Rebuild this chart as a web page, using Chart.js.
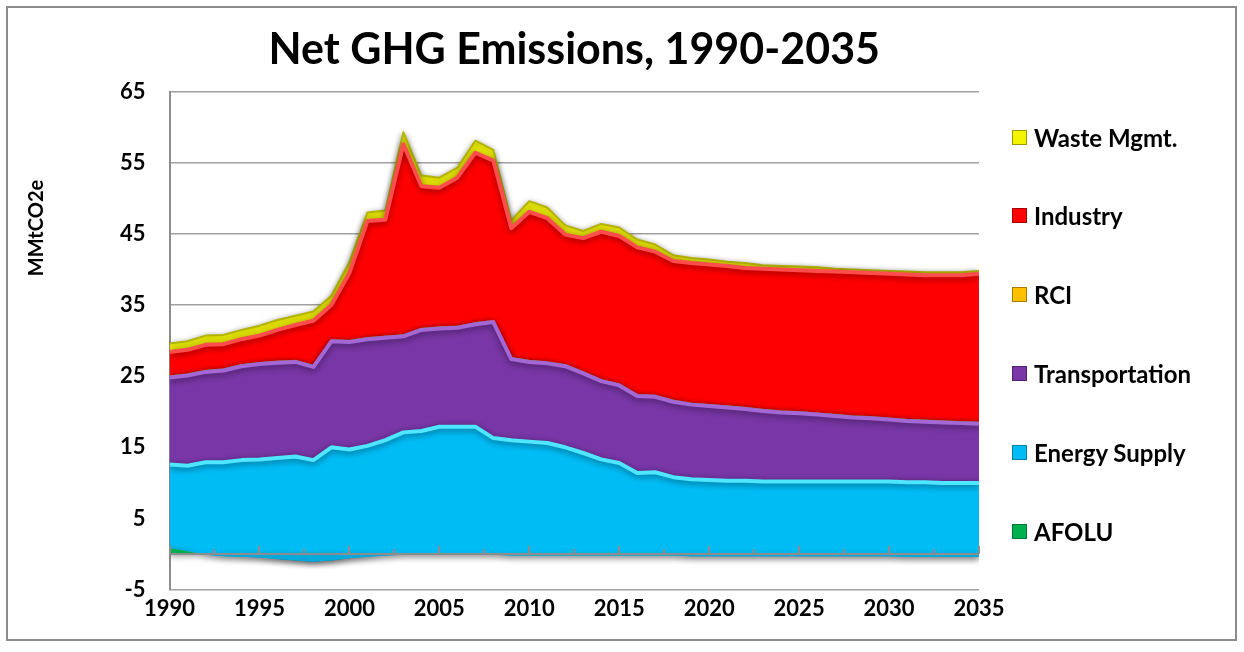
<!DOCTYPE html>
<html>
<head>
<meta charset="utf-8">
<title>Net GHG Emissions, 1990-2035</title>
<script src="https://cdn.jsdelivr.net/npm/chart.js@4.4.1/dist/chart.umd.min.js"></script>
<style>
  body { margin: 0; background: #fff; }
  #wrap { position: relative; width: 1244px; height: 652px; }
  #legend { position: absolute; left: 1012px; top: 0; margin: 0; padding: 0; list-style: none;
            font: bold 24px Lato, sans-serif; color: #000; }
  #legend li { position: absolute; left: 0; height: 28px; white-space: nowrap; display: flex; align-items: center; }
  #legend .swatch { width: 13px; height: 13px; border: 1px solid; margin-right: 7px; box-sizing: content-box; }
</style>
</head>
<body>
<div id="wrap">
  <canvas id="ghgChart" width="1244" height="652"></canvas>
  <ul id="legend"></ul>
</div>
<script>
// Years on the horizontal axis
const years = [1990, 1991, 1992, 1993, 1994, 1995, 1996, 1997, 1998, 1999,
               2000, 2001, 2002, 2003, 2004, 2005, 2006, 2007, 2008, 2009,
               2010, 2011, 2012, 2013, 2014, 2015, 2016, 2017, 2018, 2019,
               2020, 2021, 2022, 2023, 2024, 2025, 2026, 2027, 2028, 2029,
               2030, 2031, 2032, 2033, 2034, 2035];

// Emissions by sector, MMtCO2e (stacked bottom to top)
const afolu = [0.8, 0.4, -0.1, -0.3, -0.4, -0.5, -0.7, -0.9, -1.1, -0.9,
               -0.6, -0.4, -0.2, -0.1, -0.1, -0.1, -0.1, -0.1, -0.1, -0.2,
               -0.2, -0.2, -0.2, -0.2, -0.2, -0.2, -0.2, -0.2, -0.2, -0.3,
               -0.3, -0.3, -0.3, -0.3, -0.3, -0.3, -0.3, -0.3, -0.3, -0.3,
               -0.3, -0.4, -0.4, -0.4, -0.4, -0.4];
const energySupply = [11.8, 12.0, 13.0, 13.2, 13.6, 13.8, 14.2, 14.6, 14.3, 15.9,
                      15.3, 15.6, 16.2, 17.2, 17.4, 18.0, 18.0, 18.0, 16.4, 16.2,
                      16.0, 15.8, 15.2, 14.4, 13.5, 13.0, 11.6, 11.7, 11.0, 10.8,
                      10.7, 10.6, 10.6, 10.5, 10.5, 10.5, 10.5, 10.5, 10.5, 10.5,
                      10.5, 10.5, 10.5, 10.4, 10.4, 10.4];
const transportation = [12.2, 12.7, 12.7, 12.9, 13.2, 13.4, 13.4, 13.3, 13.1, 14.9,
                        15.1, 15.0, 14.4, 13.5, 14.2, 13.8, 13.9, 14.4, 16.3, 11.4,
                        11.2, 11.2, 11.4, 11.2, 11.0, 10.9, 10.8, 10.6, 10.6, 10.5,
                        10.4, 10.3, 10.1, 9.9, 9.7, 9.6, 9.4, 9.2, 9.0, 8.9,
                        8.7, 8.6, 8.5, 8.5, 8.4, 8.3];
const rci = [0.2, 0.2, 0.2, 0.2, 0.2, 0.2, 0.2, 0.2, 0.2, 0.2,
             0.2, 0.2, 0.2, 0.2, 0.2, 0.2, 0.2, 0.2, 0.2, 0.2,
             0.2, 0.2, 0.2, 0.2, 0.2, 0.2, 0.2, 0.2, 0.2, 0.2,
             0.2, 0.2, 0.2, 0.2, 0.2, 0.2, 0.2, 0.2, 0.2, 0.2,
             0.2, 0.2, 0.2, 0.2, 0.2, 0.2];
const industry = [3.4, 3.4, 3.6, 3.5, 3.6, 3.8, 4.4, 5.0, 6.3, 4.9,
                  9.5, 16.4, 16.4, 26.8, 20.0, 19.6, 20.9, 23.9, 22.5, 18.2,
                  20.9, 20.2, 18.3, 18.8, 20.8, 20.8, 20.7, 20.2, 19.6, 19.7,
                  19.7, 19.7, 19.6, 19.8, 19.9, 19.9, 20.0, 20.1, 20.2, 20.2,
                  20.3, 20.4, 20.4, 20.5, 20.6, 20.9];
const wasteMgmt = [1.2, 1.2, 1.3, 1.3, 1.3, 1.4, 1.4, 1.3, 1.3, 1.3,
                   1.5, 1.2, 1.3, 1.7, 1.5, 1.4, 1.4, 1.7, 1.5, 1.1,
                   1.5, 1.5, 1.3, 1.0, 1.1, 1.2, 1.1, 1.0, 0.8, 0.7,
                   0.7, 0.6, 0.7, 0.5, 0.5, 0.5, 0.5, 0.4, 0.4, 0.4,
                   0.4, 0.4, 0.4, 0.4, 0.4, 0.4];

// y axis runs -5..65 in steps of 10
const Y_MIN = -5, Y_MAX = 65, Y_STEP = 10;

const FONT = 'Lato, sans-serif';

// soft shadow under the stacked areas, gives the bevelled look
const areaShadow = {
    id: 'areaShadow',
    beforeDatasetsDraw(chart) {
        const ctx = chart.ctx;
        ctx.save();
        ctx.shadowColor = 'rgba(0, 0, 0, 0.45)';
        ctx.shadowBlur = 6;
        ctx.shadowOffsetY = 2;
    },
    afterDatasetsDraw(chart) {
        chart.ctx.restore();
    }
};

// zero axis with tick marks, rotated y title and the outer frame
const frameAndAxis = {
    id: 'frameAndAxis',
    afterDatasetsDraw(chart) {
        const { ctx, chartArea, scales: { x, y } } = chart;
        const y0 = y.getPixelForValue(0);
        ctx.save();
        ctx.strokeStyle = '#8c8c8c';
        ctx.lineWidth = 2;
        ctx.beginPath();
        ctx.moveTo(chartArea.left, y0);
        ctx.lineTo(chartArea.right, y0);
        x.ticks.forEach(t => {
            const px = Math.round(x.getPixelForValue(t.value));
            const len = t.value % 5 === 0 ? 8 : 5;
            ctx.moveTo(px, y0);
            ctx.lineTo(px, y0 - len);
        });
        ctx.stroke();
        ctx.restore();
    },
    afterDraw(chart) {
        const ctx = chart.ctx;
        ctx.save();
        ctx.strokeStyle = '#8c8c8c';
        ctx.lineWidth = 2;
        ctx.strokeRect(7, 7, 1229, 633);

        ctx.translate(37, 228);
        ctx.rotate(-Math.PI / 2);
        ctx.font = 'bold 20px ' + FONT;
        ctx.textAlign = 'center';
        ctx.textBaseline = 'middle';
        ctx.fillStyle = '#000';
        ctx.fillText('MMtCO2e', 0, 0);
        ctx.restore();
    }
};

const datasets = [
    { label: 'AFOLU', data: afolu, backgroundColor: '#00b050', borderColor: '#00b050', borderWidth: 0,
      fill: { target: 'origin', above: '#00b050', below: '#05a9dc' } },
    { label: 'Energy Supply', data: energySupply, backgroundColor: '#00bcf5', borderColor: '#4fe6ff', borderWidth: 4, fill: '-1' },
    { label: 'Transportation', data: transportation, backgroundColor: '#7836a6', borderColor: '#a468d6', borderWidth: 4, fill: '-1' },
    { label: 'RCI', data: rci, backgroundColor: '#ffc000', borderColor: '#9c8a1e', borderWidth: 1.5, fill: '-1' },
    { label: 'Industry', data: industry, backgroundColor: '#ff0000', borderColor: '#ff4d4d', borderWidth: 4, fill: '-1' },
    { label: 'Waste Mgmt.', data: wasteMgmt, backgroundColor: '#f4f400', borderColor: '#b4b400', borderWidth: 2, fill: '-1' }
];

// legend swatch edges
const legendEdge = {
    'AFOLU': '#007a38', 'Energy Supply': '#0082ad', 'Transportation': '#4e2270',
    'RCI': '#a67c00', 'Industry': '#a80000', 'Waste Mgmt.': '#9a9a00'
};

const chart = new Chart(document.getElementById('ghgChart'), {
    type: 'line',
    data: { labels: years, datasets: datasets },
    options: {
        responsive: false,
        animation: false,
        layout: { padding: { left: 96, right: 265, top: 10, bottom: 24 } },
        elements: {
            point: { radius: 0 },
            line: { tension: 0, borderJoinStyle: 'round' }
        },
        plugins: {
            legend: { display: false },
            tooltip: { enabled: false },
            title: {
                display: true,
                fullSize: false,
                text: 'Net GHG Emissions, 1990-2035',
                color: '#000',
                font: { family: FONT, size: 43, weight: 'bold' },
                padding: { top: 14, bottom: 16 }
            }
        },
        scales: {
            x: {
                type: 'linear',
                min: 1990,
                max: 2035,
                grid: { display: false, drawTicks: false },
                border: { display: false },
                ticks: {
                    stepSize: 2.5,
                    autoSkip: false,
                    maxRotation: 0,
                    padding: 6,
                    color: '#000',
                    font: { family: FONT, size: 22, weight: 'bold' },
                    callback: v => (v % 5 === 0 ? String(v) : '')
                }
            },
            y: {
                stacked: 'single',
                min: Y_MIN,
                max: Y_MAX,
                grid: { color: '#a0a0a0', lineWidth: 1.5, drawTicks: false },
                border: { display: true, color: '#8c8c8c', width: 2 },
                ticks: {
                    stepSize: Y_STEP,
                    padding: 24,
                    color: '#000',
                    font: { family: FONT, size: 22, weight: 'bold' }
                }
            }
        }
    },
    plugins: [areaShadow, frameAndAxis]
});

// legend on the right, top item is the top of the stack
const legendList = document.getElementById('legend');
chart.data.datasets.slice().reverse().forEach((ds, i) => {
    const li = document.createElement('li');
    li.style.top = (137 - 14 + i * 78.8) + 'px';
    const sw = document.createElement('span');
    sw.className = 'swatch';
    sw.style.background = ds.backgroundColor;
    sw.style.borderColor = legendEdge[ds.label];
    li.appendChild(sw);
    li.appendChild(document.createTextNode(ds.label));
    legendList.appendChild(li);
});
</script>
</body>
</html>
